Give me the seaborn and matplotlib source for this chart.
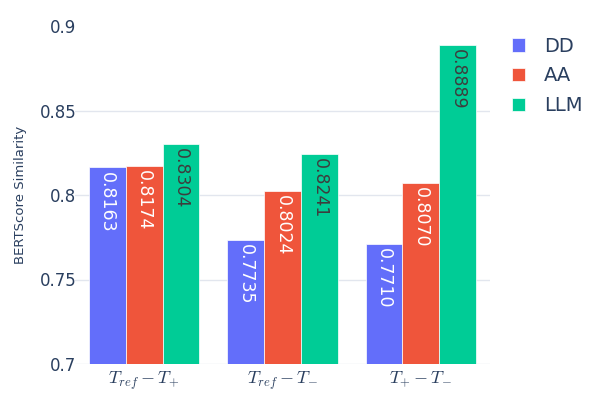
import matplotlib
matplotlib.use('Agg')
import matplotlib.pyplot as plt
import seaborn as sns
import pandas as pd

# Data
pairs = [r'$T_{ref} - T_{+}$', r'$T_{ref} - T_{-}$', r'$T_{+} - T_{-}$']
methods = ['DD', 'AA', 'LLM']
dd_scores = [0.8163, 0.7735, 0.7710]
aa_scores = [0.8174, 0.8024, 0.8070]
llm_scores = [0.8304, 0.8241, 0.8889]
colors = ['#636EFA', '#EF553B', '#00CC96']

df = pd.DataFrame({
    'pair': pairs * 3,
    'method': ['DD'] * 3 + ['AA'] * 3 + ['LLM'] * 3,
    'score': dd_scores + aa_scores + llm_scores,
})

sns.set_style('white')
plt.rcParams['font.family'] = ['DejaVu Sans']
plt.rcParams['mathtext.fontset'] = 'cm'

fig = plt.figure(figsize=(5.98, 3.99), dpi=100)
ax = fig.add_axes([75 / 598, 1 - 364 / 399, 415 / 598, 338 / 399])

sns.barplot(data=df, x='pair', y='score', hue='method', hue_order=methods,
            palette=colors, order=pairs, width=0.8, saturation=1,
            edgecolor='white', linewidth=0.5, ax=ax)

# value labels inside bars, rotated like the original
text_colors = ['white', 'white', '#3d3d3d']
for cont, tc in zip(ax.containers, text_colors):
    for bar in cont:
        h = bar.get_height()
        ax.annotate(f'{h:.4f}', (bar.get_x() + bar.get_width() / 2, h),
                    xytext=(0, -3), textcoords='offset points',
                    rotation=-90, ha='center', va='top',
                    fontsize=12.5, color=tc)

ax.set_ylim(0.7, 0.9)
ax.set_yticks([0.7, 0.75, 0.8, 0.85, 0.9])
ax.set_yticklabels(['0.7', '0.75', '0.8', '0.85', '0.9'])
ax.grid(axis='y', color='#E2E6EE', linewidth=1)
ax.yaxis.get_gridlines()[-1].set_visible(False)
ax.set_axisbelow(True)
for s in ax.spines.values():
    s.set_visible(False)
ax.tick_params(axis='y', labelsize=12, colors='#2a3f5f', length=0, pad=-1)
ax.tick_params(axis='x', labelsize=13, colors='#2a3f5f', length=0, pad=4)
ax.set_xlabel('')
ax.set_ylabel('BERTScore Similarity', fontsize=9.5, color='#2a3f5f', labelpad=9)

handles, labels = ax.get_legend_handles_labels()
leg = ax.legend(handles, labels, loc='upper left', bbox_to_anchor=(1.01, 1.02),
                frameon=False, fontsize=14, labelcolor='#2a3f5f',
                handlelength=0.7, handleheight=0.7, handletextpad=0.95,
                labelspacing=0.55)

fig.savefig('out.png', dpi=100)
